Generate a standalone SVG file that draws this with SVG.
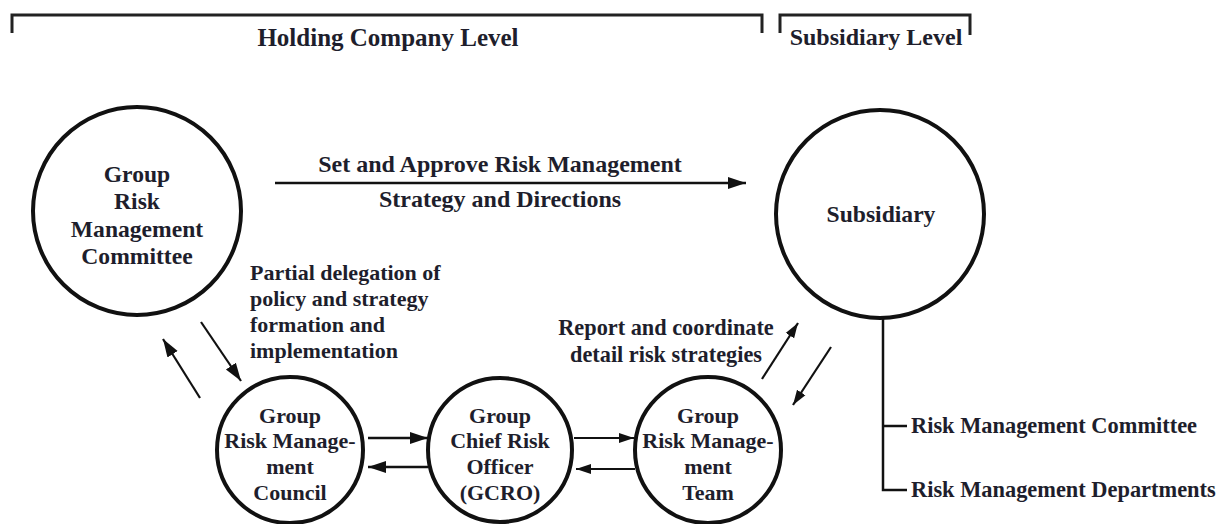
<svg xmlns="http://www.w3.org/2000/svg" width="1218" height="524" viewBox="0 0 1218 524">
<defs>
<style>
text{font-family:"Liberation Serif","Times New Roman",serif;font-weight:bold;fill:#1e1e2c;font-size:22px}
.c{text-anchor:middle}
.hd{font-size:25px}
.big{font-size:23.6px}
.node{fill:none;stroke:#111;stroke-width:4}
.br{fill:none;stroke:#222;stroke-width:3}
.ar{fill:none;stroke:#111;stroke-width:2.2}
.ln{fill:none;stroke:#111;stroke-width:2.5}
</style>
<marker id="ah" markerUnits="userSpaceOnUse" markerWidth="20" markerHeight="14" viewBox="0 0 20 14" refX="18" refY="7" orient="auto">
<path d="M0,1 L18,7 L0,13 Z" fill="#111"/>
</marker>
<marker id="ahs" markerUnits="userSpaceOnUse" markerWidth="16" markerHeight="12" viewBox="0 0 16 12" refX="15" refY="6" orient="auto">
<path d="M0,1 L15,6 L0,11 Z" fill="#111"/>
</marker>
</defs>
<rect width="1218" height="524" fill="#fff"/>
<g id="brackets">
<path class="br" d="M12,33 V15 H762 V33"/>
<path class="br" d="M780,33 V15 H970 V35"/>
<text class="c hd" x="388" y="46">Holding Company Level</text>
<text class="c" x="876" y="45" style="font-size:24px">Subsidiary Level</text>
</g>
<g id="grmc">
<circle class="node" cx="137" cy="211" r="104"/>
<text class="c big" x="137" y="182">Group</text>
<text class="c big" x="137" y="209">Risk</text>
<text class="c big" x="137" y="237">Management</text>
<text class="c big" x="137" y="264">Committee</text>
</g>
<g id="subsidiary">
<circle class="node" cx="880" cy="214" r="104"/>
<text class="c big" x="881" y="222">Subsidiary</text>
</g>
<g id="council">
<circle class="node" cx="290" cy="450" r="73"/>
<text class="c" x="290" y="423">Group</text>
<text class="c" x="290" y="448">Risk Manage-</text>
<text class="c" x="290" y="474">ment</text>
<text class="c" x="290" y="500">Council</text>
</g>
<g id="gcro">
<circle class="node" cx="500" cy="450" r="72"/>
<text class="c" x="500" y="423">Group</text>
<text class="c" x="500" y="448">Chief Risk</text>
<text class="c" x="500" y="474">Officer</text>
<text class="c" x="500" y="500">(GCRO)</text>
</g>
<g id="team">
<circle class="node" cx="708" cy="450" r="73"/>
<text class="c" x="708" y="423">Group</text>
<text class="c" x="708" y="448">Risk Manage-</text>
<text class="c" x="708" y="474">ment</text>
<text class="c" x="708" y="500">Team</text>
</g>
<g id="sub-units">
<text x="911" y="433" style="font-size:22.4px">Risk Management Committee</text>
<text x="911" y="497" style="font-size:22.4px">Risk Management Departments</text>
</g>
<g id="connectors">
<line class="ln" x1="275" y1="183" x2="746" y2="183" marker-end="url(#ah)"/>
<text class="c" x="500" y="172" style="font-size:24px">Set and Approve Risk Management</text>
<text class="c" x="500" y="207" style="font-size:24px">Strategy and Directions</text>
<line class="ar" x1="201" y1="322" x2="241" y2="381" marker-end="url(#ah)"/>
<line class="ar" x1="200" y1="398" x2="163" y2="339" marker-end="url(#ah)"/>
<text x="250" y="280">Partial delegation of</text>
<text x="250" y="306">policy and strategy</text>
<text x="250" y="332">formation and</text>
<text x="250" y="358">implementation</text>
<line class="ln" x1="368" y1="438" x2="428" y2="438" marker-end="url(#ah)"/>
<line class="ln" x1="428" y1="467" x2="368" y2="467" marker-end="url(#ah)"/>
<line class="ar" x1="574" y1="438" x2="634" y2="438" marker-end="url(#ahs)"/>
<line class="ar" x1="635" y1="469" x2="576" y2="469" marker-end="url(#ahs)"/>
<line class="ar" x1="762" y1="379" x2="798" y2="323" marker-end="url(#ahs)"/>
<line class="ar" x1="831" y1="347" x2="793" y2="405" marker-end="url(#ahs)"/>
<text class="c" x="666" y="335" style="font-size:22.3px">Report and coordinate</text>
<text class="c" x="666" y="362" style="font-size:22.3px">detail risk strategies</text>
<path class="ln" d="M883,318 V490 H907 M883,426 H907"/>
</g>
</svg>
